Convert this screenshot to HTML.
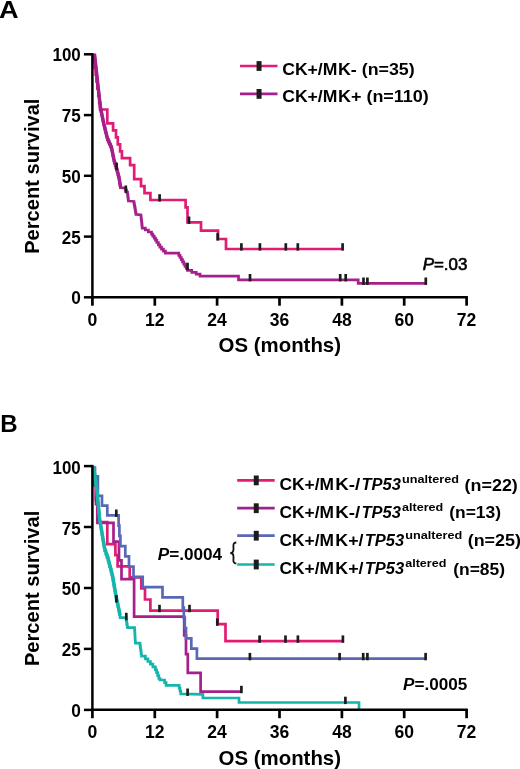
<!DOCTYPE html>
<html><head><meta charset="utf-8"><title>Figure</title>
<style>html,body{margin:0;padding:0;background:#fff}svg{display:block}</style></head>
<body><svg width="520" height="769" viewBox="0 0 520 769">
<rect width="520" height="769" fill="#fff"/>
<text x="-0.9" y="17.6" font-size="24.5" font-family="Liberation Sans, Arial, Helvetica, sans-serif" font-weight="bold" font-style="normal" text-anchor="start" textLength="19.6" lengthAdjust="spacingAndGlyphs" >A</text>
<text x="0.3" y="431.9" font-size="24.5" font-family="Liberation Sans, Arial, Helvetica, sans-serif" font-weight="bold" font-style="normal" text-anchor="start" textLength="17.4" lengthAdjust="spacingAndGlyphs" >B</text>
<path d="M93.9 53.8L93.9 60.8L94.8 60.8L94.8 67.7L95.7 67.7L95.7 74.7L96.5 74.7L96.5 81.7L97.4 81.7L97.4 88.6L98.3 88.6L98.3 95.6L99.2 95.6L99.2 102.5L100.0 102.5L100.0 109.5L100.9 109.5L107.3 109.5L107.3 123.4L113.1 123.4L113.1 130.4L116.0 130.4L116.0 137.4L117.8 137.4L117.8 144.3L120.1 144.3L120.1 151.3L121.9 151.3L121.9 158.2L130.1 158.2L130.1 165.2L134.2 165.2L134.2 179.1L141.0 179.1L141.0 186.1L144.5 186.1L144.5 193.1L150.4 193.1L150.4 200.0L185.6 200.0L185.6 207.3L187.5 207.3L187.5 222.3L201.0 222.3L201.0 230.6L218.0 230.6L218.0 239.0L226.0 239.0L226.0 249.0L342.6 249.0" stroke="#e21c74" stroke-width="2.7" fill="none" stroke-linejoin="miter"/>
<path d="M94.5 53.8L94.5 56.0L94.7 56.0L94.7 58.2L95.0 58.2L95.0 60.4L95.2 60.4L95.2 62.7L95.5 62.7L95.5 64.9L95.7 64.9L95.7 67.1L96.0 67.1L96.0 69.3L96.2 69.3L96.2 71.5L96.5 71.5L96.5 73.8L96.7 73.8L96.7 76.0L97.0 76.0L97.0 78.2L97.2 78.2L97.2 80.4L97.5 80.4L97.5 82.6L97.7 82.6L97.7 84.8L97.9 84.8L97.9 87.0L98.2 87.0L98.2 89.3L98.4 89.3L98.4 91.5L98.7 91.5L98.7 93.7L98.9 93.7L98.9 95.9L99.2 95.9L99.2 98.1L99.4 98.1L99.4 100.3L99.7 100.3L99.7 102.6L99.9 102.6L99.9 104.8L100.2 104.8L100.2 107.0L100.4 107.0L100.4 109.3L100.9 109.3L100.9 111.7L101.4 111.7L101.4 114.0L101.9 114.0L101.9 116.4L102.3 116.4L102.3 118.7L102.8 118.7L102.8 121.1L103.3 121.1L103.3 123.4L103.8 123.4L103.8 125.7L104.4 125.7L104.4 128.1L105.0 128.1L105.0 130.4L105.5 130.4L105.5 132.7L106.1 132.7L106.1 135.1L106.7 135.1L106.7 137.4L107.3 137.4L107.3 139.8L108.3 139.8L108.3 142.1L109.3 142.1L109.3 144.5L110.4 144.5L110.4 146.8L111.4 146.8L111.4 149.1L111.9 149.1L111.9 151.5L112.4 151.5L112.4 153.8L112.8 153.8L112.8 156.1L113.3 156.1L113.3 158.5L113.8 158.5L113.8 160.8L114.3 160.8L114.3 163.1L115.1 163.1L115.1 165.5L115.8 165.5L115.8 167.8L116.6 167.8L116.6 170.2L117.2 170.2L117.2 172.5L117.8 172.5L117.8 174.8L118.4 174.8L118.4 177.2L119.0 177.2L119.0 179.3L119.3 179.3L119.3 181.4L119.7 181.4L119.7 183.4L120.0 183.4L120.0 185.5L120.4 185.5L120.4 187.6L120.7 187.6L125.6 188.2L125.6 190.2L126.5 190.2L126.5 192.2L127.5 192.2L127.5 194.4L127.8 194.4L127.8 196.6L128.1 196.6L128.1 198.8L128.4 198.8L128.4 201.0L128.7 201.0L134.0 201.5L134.0 203.7L134.4 203.7L134.4 205.8L134.8 205.8L134.8 207.9L135.2 207.9L135.2 210.1L135.5 210.1L135.5 212.2L135.9 212.2L135.9 214.4L136.3 214.4L141.0 215.0L141.0 217.2L141.2 217.2L141.2 219.4L141.5 219.4L141.5 221.7L141.7 221.7L141.7 223.9L142.0 223.9L142.0 226.1L142.2 226.1L142.2 228.1L145.3 228.1L145.3 230.0L148.4 230.0L148.4 232.0L151.5 232.0L151.5 234.1L152.8 234.1L152.8 236.1L154.2 236.1L154.2 238.1L155.5 238.1L155.5 240.2L156.8 240.2L156.8 242.5L158.4 242.5L158.4 244.9L159.9 244.9L159.9 247.2L161.5 247.2L161.5 249.2L163.4 249.2L163.4 251.1L165.4 251.1L165.4 253.1L167.3 253.1L178.8 253.1L178.8 255.3L180.0 255.3L180.0 257.5L181.3 257.5L181.3 259.7L182.5 259.7L182.5 261.9L183.8 261.9L183.8 264.1L185.0 264.1L185.0 266.3L186.3 266.3L186.3 268.5L187.5 268.5L187.5 270.4L191.8 270.4L191.8 272.3L196.2 272.3L196.2 274.2L200.0 274.2L200.0 276.2L203.8 276.2L238.5 276.2L238.5 279.8L358.2 279.8L358.2 283.3L425.8 283.3" stroke="#a6208c" stroke-width="2.7" fill="none" stroke-linejoin="miter"/>
<path d="M94.5 53.8L100.4 107.0L103.8 123.4L107.3 137.4L111.4 146.8L114.3 160.8L116.6 167.8L119.0 177.2L120.7 187.6" stroke="#a6208c" stroke-width="3.3" fill="none" stroke-linejoin="miter"/>
<path d="M159.6 194.2V201.6" stroke="#1c1c1c" stroke-width="2.7"/><path d="M189.0 216.5V223.9" stroke="#1c1c1c" stroke-width="2.7"/><path d="M217.7 233.2V240.6" stroke="#1c1c1c" stroke-width="2.7"/><path d="M241.4 243.2V250.6" stroke="#1c1c1c" stroke-width="2.7"/><path d="M259.9 243.2V250.6" stroke="#1c1c1c" stroke-width="2.7"/><path d="M285.8 243.2V250.6" stroke="#1c1c1c" stroke-width="2.7"/><path d="M297.8 243.2V250.6" stroke="#1c1c1c" stroke-width="2.7"/><path d="M342.6 243.2V250.6" stroke="#1c1c1c" stroke-width="2.7"/>
<path d="M116.6 162.7V170.1" stroke="#1c1c1c" stroke-width="2.7"/><path d="M125.8 185.5V192.9" stroke="#1c1c1c" stroke-width="2.7"/><path d="M187.5 262.7V270.1" stroke="#1c1c1c" stroke-width="2.7"/><path d="M250.0 274.0V281.4" stroke="#1c1c1c" stroke-width="2.7"/><path d="M340.2 274.0V281.4" stroke="#1c1c1c" stroke-width="2.7"/><path d="M345.7 274.0V281.4" stroke="#1c1c1c" stroke-width="2.7"/><path d="M363.5 277.5V284.9" stroke="#1c1c1c" stroke-width="2.7"/><path d="M367.4 277.5V284.9" stroke="#1c1c1c" stroke-width="2.7"/><path d="M425.8 277.5V284.9" stroke="#1c1c1c" stroke-width="2.7"/>
<path d="M94.2 466.6L94.2 477.7L95.8 477.7L95.8 499.8L97.3 499.8L97.3 522.0L107.3 522.0L107.3 544.1L115.4 544.1L115.4 555.2L117.6 555.2L117.6 566.3L129.7 566.3L129.7 577.4L141.3 577.4L141.3 588.4L145.0 588.4L145.0 599.5L150.4 599.5L150.4 610.6L217.7 610.6L217.7 624.2L225.5 624.2L225.5 641.2L342.9 641.2" stroke="#e21c74" stroke-width="2.7" fill="none" stroke-linejoin="miter"/>
<path d="M94.4 466.6L94.4 485.3L96.0 485.3L96.0 504.1L97.5 504.1L97.5 522.8L113.5 522.8L113.5 541.6L119.0 541.6L119.0 560.3L121.5 560.3L121.5 579.1L134.1 579.1L134.1 616.6L184.2 616.6L184.2 635.3L186.0 635.3L186.0 654.1L187.8 654.1L187.8 672.8L200.6 672.8L200.6 691.6L241.4 691.6" stroke="#a6208c" stroke-width="2.7" fill="none" stroke-linejoin="miter"/>
<path d="M95.0 466.6L95.0 476.3L97.9 476.3L97.9 495.8L102.0 495.8L102.0 505.6L107.3 505.6L107.3 515.3L118.6 515.3L118.6 525.6L119.4 525.6L119.4 535.9L120.4 535.9L120.4 546.1L125.3 546.1L125.3 556.4L129.0 556.4L129.0 566.6L133.5 566.6L133.5 576.9L142.7 576.9L142.7 587.1L162.5 587.1L162.5 597.4L182.8 597.4L182.8 607.6L183.8 607.6L183.8 617.9L184.8 617.9L184.8 628.1L186.0 628.1L186.0 638.4L191.3 638.4L191.3 648.7L196.9 648.7L196.9 658.7L425.6 658.7" stroke="#5967b6" stroke-width="2.7" fill="none" stroke-linejoin="miter"/>
<path d="M93.6 466.6L93.6 469.4L94.0 469.4L94.0 472.2L94.4 472.2L94.4 475.1L94.8 475.1L94.8 477.9L95.2 477.9L95.2 480.7L95.6 480.7L95.6 483.6L96.0 483.6L96.0 486.4L96.4 486.4L96.4 489.2L96.8 489.2L96.8 492.1L97.1 492.1L97.1 495.1L97.4 495.1L97.4 498.0L97.7 498.0L97.7 500.9L98.0 500.9L98.0 503.9L98.2 503.9L98.2 506.8L98.5 506.8L98.5 509.7L98.8 509.7L98.8 512.6L99.1 512.6L99.1 515.6L99.4 515.6L99.4 518.5L99.7 518.5L99.7 521.2L100.1 521.2L100.1 523.9L100.6 523.9L100.6 526.6L101.0 526.6L101.0 529.2L101.5 529.2L101.5 531.9L101.9 531.9L101.9 534.6L102.3 534.6L102.3 537.3L102.8 537.3L102.8 540.0L103.2 540.0L103.2 542.6L103.7 542.6L103.7 545.1L104.1 545.1L104.1 547.7L104.6 547.7L104.6 551.0L105.7 551.0L105.7 554.2L106.8 554.2L106.8 557.5L107.9 557.5L107.9 560.4L108.7 560.4L108.7 563.4L109.4 563.4L109.4 566.3L110.2 566.3L110.2 569.2L111.0 569.2L111.0 572.2L111.7 572.2L111.7 575.1L112.5 575.1L112.5 578.1L113.0 578.1L113.0 581.1L113.5 581.1L113.5 584.1L114.0 584.1L114.0 587.1L114.6 587.1L114.6 590.1L115.1 590.1L115.1 593.1L115.6 593.1L115.6 596.1L116.1 596.1L116.1 598.8L116.7 598.8L116.7 601.5L117.2 601.5L117.2 604.2L117.8 604.2L117.8 606.8L118.4 606.8L118.4 609.5L119.0 609.5L119.0 612.2L119.5 612.2L119.5 614.9L120.1 614.9L120.1 617.7L126.2 617.7L126.2 620.8L126.7 620.8L126.7 623.8L127.2 623.8L127.2 626.9L127.7 626.9L127.7 627.7L134.6 627.7L134.6 630.5L134.8 630.5L134.8 633.2L134.9 633.2L134.9 636.0L135.1 636.0L135.1 638.7L135.2 638.7L135.2 641.5L135.4 641.5L135.4 643.1L140.0 643.1L140.0 645.8L140.4 645.8L140.4 648.5L140.8 648.5L140.8 651.1L141.1 651.1L141.1 653.8L141.5 653.8L141.5 656.2L145.4 656.2L145.4 658.9L147.9 658.9L147.9 661.5L150.4 661.5L150.4 664.2L152.9 664.2L152.9 666.9L155.4 666.9L155.4 669.8L156.6 669.8L156.6 672.7L157.7 672.7L157.7 675.6L158.8 675.6L158.8 678.5L160.0 678.5L160.0 680.0L164.6 680.0L164.6 682.7L166.1 682.7L166.1 685.4L167.7 685.4L179.2 685.4L179.2 688.2L180.0 688.2L180.0 691.0L180.7 691.0L180.7 693.8L181.5 693.8L202.9 694.3L202.9 698.0L239.0 698.0L239.0 702.5L359.0 702.5L359.0 709.5" stroke="#16b5ac" stroke-width="2.7" fill="none" stroke-linejoin="miter"/>
<path d="M93.6 466.6L96.8 489.2L99.7 518.5L103.2 540.0L104.6 547.7L107.9 557.5L112.5 575.1L116.1 596.1L120.1 614.9" stroke="#16b5ac" stroke-width="3.4" fill="none" stroke-linejoin="miter"/>
<path d="M159.5 604.8V612.2" stroke="#1c1c1c" stroke-width="2.7"/><path d="M189.5 604.8V612.2" stroke="#1c1c1c" stroke-width="2.7"/><path d="M217.3 618.4V625.8" stroke="#1c1c1c" stroke-width="2.7"/><path d="M259.6 635.4V642.8" stroke="#1c1c1c" stroke-width="2.7"/><path d="M285.5 635.4V642.8" stroke="#1c1c1c" stroke-width="2.7"/><path d="M297.9 635.4V642.8" stroke="#1c1c1c" stroke-width="2.7"/><path d="M342.9 635.4V642.8" stroke="#1c1c1c" stroke-width="2.7"/>
<path d="M241.4 685.8V693.2" stroke="#1c1c1c" stroke-width="2.7"/>
<path d="M116.3 509.5V516.9" stroke="#1c1c1c" stroke-width="2.7"/><path d="M249.9 652.9V660.3" stroke="#1c1c1c" stroke-width="2.7"/><path d="M339.6 652.9V660.3" stroke="#1c1c1c" stroke-width="2.7"/><path d="M363.2 652.9V660.3" stroke="#1c1c1c" stroke-width="2.7"/><path d="M367.4 652.9V660.3" stroke="#1c1c1c" stroke-width="2.7"/><path d="M425.6 652.9V660.3" stroke="#1c1c1c" stroke-width="2.7"/>
<path d="M116.4 595.1V602.5" stroke="#1c1c1c" stroke-width="2.7"/><path d="M126.3 612.8V620.2" stroke="#1c1c1c" stroke-width="2.7"/><path d="M187.6 688.5V695.9" stroke="#1c1c1c" stroke-width="2.7"/><path d="M345.4 696.7V704.1" stroke="#1c1c1c" stroke-width="2.7"/>
<path d="M92.4 53.1V298.6" stroke="#000" stroke-width="2.5" fill="none"/>
<path d="M91.0 297.3H467.9" stroke="#000" stroke-width="2.5" fill="none"/>
<path d="M83.9 297.3H92.4" stroke="#000" stroke-width="2.5"/>
<text x="80.8" y="304.2" font-size="17.5" font-family="Liberation Sans, Arial, Helvetica, sans-serif" font-weight="bold" font-style="normal" text-anchor="end" textLength="9.6" lengthAdjust="spacingAndGlyphs" >0</text>
<path d="M83.9 236.6H92.4" stroke="#000" stroke-width="2.5"/>
<text x="80.8" y="243.5" font-size="17.5" font-family="Liberation Sans, Arial, Helvetica, sans-serif" font-weight="bold" font-style="normal" text-anchor="end" textLength="19.0" lengthAdjust="spacingAndGlyphs" >25</text>
<path d="M83.9 175.8H92.4" stroke="#000" stroke-width="2.5"/>
<text x="80.8" y="182.7" font-size="17.5" font-family="Liberation Sans, Arial, Helvetica, sans-serif" font-weight="bold" font-style="normal" text-anchor="end" textLength="19.0" lengthAdjust="spacingAndGlyphs" >50</text>
<path d="M83.9 115.1H92.4" stroke="#000" stroke-width="2.5"/>
<text x="80.8" y="122.0" font-size="17.5" font-family="Liberation Sans, Arial, Helvetica, sans-serif" font-weight="bold" font-style="normal" text-anchor="end" textLength="19.0" lengthAdjust="spacingAndGlyphs" >75</text>
<path d="M83.9 54.3H92.4" stroke="#000" stroke-width="2.5"/>
<text x="80.8" y="61.2" font-size="17.5" font-family="Liberation Sans, Arial, Helvetica, sans-serif" font-weight="bold" font-style="normal" text-anchor="end" textLength="28.3" lengthAdjust="spacingAndGlyphs" >100</text>
<path d="M92.4 297.3V305.7" stroke="#000" stroke-width="2.7"/>
<text x="92.4" y="325.6" font-size="17.5" font-family="Liberation Sans, Arial, Helvetica, sans-serif" font-weight="bold" font-style="normal" text-anchor="middle" textLength="9.8" lengthAdjust="spacingAndGlyphs" >0</text>
<path d="M154.8 297.3V305.7" stroke="#000" stroke-width="2.7"/>
<text x="154.8" y="325.6" font-size="17.5" font-family="Liberation Sans, Arial, Helvetica, sans-serif" font-weight="bold" font-style="normal" text-anchor="middle" textLength="19.5" lengthAdjust="spacingAndGlyphs" >12</text>
<path d="M217.1 297.3V305.7" stroke="#000" stroke-width="2.7"/>
<text x="217.1" y="325.6" font-size="17.5" font-family="Liberation Sans, Arial, Helvetica, sans-serif" font-weight="bold" font-style="normal" text-anchor="middle" textLength="19.5" lengthAdjust="spacingAndGlyphs" >24</text>
<path d="M279.5 297.3V305.7" stroke="#000" stroke-width="2.7"/>
<text x="279.5" y="325.6" font-size="17.5" font-family="Liberation Sans, Arial, Helvetica, sans-serif" font-weight="bold" font-style="normal" text-anchor="middle" textLength="19.5" lengthAdjust="spacingAndGlyphs" >36</text>
<path d="M341.9 297.3V305.7" stroke="#000" stroke-width="2.7"/>
<text x="341.9" y="325.6" font-size="17.5" font-family="Liberation Sans, Arial, Helvetica, sans-serif" font-weight="bold" font-style="normal" text-anchor="middle" textLength="19.5" lengthAdjust="spacingAndGlyphs" >48</text>
<path d="M404.2 297.3V305.7" stroke="#000" stroke-width="2.7"/>
<text x="404.2" y="325.6" font-size="17.5" font-family="Liberation Sans, Arial, Helvetica, sans-serif" font-weight="bold" font-style="normal" text-anchor="middle" textLength="19.5" lengthAdjust="spacingAndGlyphs" >60</text>
<path d="M466.6 297.3V305.7" stroke="#000" stroke-width="2.7"/>
<text x="466.6" y="325.6" font-size="17.5" font-family="Liberation Sans, Arial, Helvetica, sans-serif" font-weight="bold" font-style="normal" text-anchor="middle" textLength="19.5" lengthAdjust="spacingAndGlyphs" >72</text>
<text x="279.8" y="352.4" font-size="20.5" font-family="Liberation Sans, Arial, Helvetica, sans-serif" font-weight="bold" font-style="normal" text-anchor="middle" textLength="122.4" lengthAdjust="spacingAndGlyphs" >OS (months)</text>
<g transform="translate(39.3 176.2) rotate(-90)"><text x="0" y="0" font-size="20.5" font-family="Liberation Sans, Arial, Helvetica, sans-serif" font-weight="bold" font-style="normal" text-anchor="middle" textLength="155.3" lengthAdjust="spacingAndGlyphs" >Percent survival</text></g>
<path d="M92.4 464.9V711.1" stroke="#000" stroke-width="2.5" fill="none"/>
<path d="M91.0 709.85H467.9" stroke="#000" stroke-width="2.5" fill="none"/>
<path d="M83.9 709.9H92.4" stroke="#000" stroke-width="2.5"/>
<text x="80.8" y="716.7" font-size="17.5" font-family="Liberation Sans, Arial, Helvetica, sans-serif" font-weight="bold" font-style="normal" text-anchor="end" textLength="9.6" lengthAdjust="spacingAndGlyphs" >0</text>
<path d="M83.9 648.9H92.4" stroke="#000" stroke-width="2.5"/>
<text x="80.8" y="656.0" font-size="17.5" font-family="Liberation Sans, Arial, Helvetica, sans-serif" font-weight="bold" font-style="normal" text-anchor="end" textLength="19.0" lengthAdjust="spacingAndGlyphs" >25</text>
<path d="M83.9 588.0H92.4" stroke="#000" stroke-width="2.5"/>
<text x="80.8" y="595.4" font-size="17.5" font-family="Liberation Sans, Arial, Helvetica, sans-serif" font-weight="bold" font-style="normal" text-anchor="end" textLength="19.0" lengthAdjust="spacingAndGlyphs" >50</text>
<path d="M83.9 527.0H92.4" stroke="#000" stroke-width="2.5"/>
<text x="80.8" y="534.7" font-size="17.5" font-family="Liberation Sans, Arial, Helvetica, sans-serif" font-weight="bold" font-style="normal" text-anchor="end" textLength="19.0" lengthAdjust="spacingAndGlyphs" >75</text>
<path d="M83.9 466.1H92.4" stroke="#000" stroke-width="2.5"/>
<text x="80.8" y="474.0" font-size="17.5" font-family="Liberation Sans, Arial, Helvetica, sans-serif" font-weight="bold" font-style="normal" text-anchor="end" textLength="28.3" lengthAdjust="spacingAndGlyphs" >100</text>
<path d="M92.4 709.85V718.2" stroke="#000" stroke-width="2.7"/>
<text x="92.4" y="738.1" font-size="17.5" font-family="Liberation Sans, Arial, Helvetica, sans-serif" font-weight="bold" font-style="normal" text-anchor="middle" textLength="9.8" lengthAdjust="spacingAndGlyphs" >0</text>
<path d="M154.8 709.85V718.2" stroke="#000" stroke-width="2.7"/>
<text x="154.8" y="738.1" font-size="17.5" font-family="Liberation Sans, Arial, Helvetica, sans-serif" font-weight="bold" font-style="normal" text-anchor="middle" textLength="19.5" lengthAdjust="spacingAndGlyphs" >12</text>
<path d="M217.1 709.85V718.2" stroke="#000" stroke-width="2.7"/>
<text x="217.1" y="738.1" font-size="17.5" font-family="Liberation Sans, Arial, Helvetica, sans-serif" font-weight="bold" font-style="normal" text-anchor="middle" textLength="19.5" lengthAdjust="spacingAndGlyphs" >24</text>
<path d="M279.5 709.85V718.2" stroke="#000" stroke-width="2.7"/>
<text x="279.5" y="738.1" font-size="17.5" font-family="Liberation Sans, Arial, Helvetica, sans-serif" font-weight="bold" font-style="normal" text-anchor="middle" textLength="19.5" lengthAdjust="spacingAndGlyphs" >36</text>
<path d="M341.9 709.85V718.2" stroke="#000" stroke-width="2.7"/>
<text x="341.9" y="738.1" font-size="17.5" font-family="Liberation Sans, Arial, Helvetica, sans-serif" font-weight="bold" font-style="normal" text-anchor="middle" textLength="19.5" lengthAdjust="spacingAndGlyphs" >48</text>
<path d="M404.2 709.85V718.2" stroke="#000" stroke-width="2.7"/>
<text x="404.2" y="738.1" font-size="17.5" font-family="Liberation Sans, Arial, Helvetica, sans-serif" font-weight="bold" font-style="normal" text-anchor="middle" textLength="19.5" lengthAdjust="spacingAndGlyphs" >60</text>
<path d="M466.6 709.85V718.2" stroke="#000" stroke-width="2.7"/>
<text x="466.6" y="738.1" font-size="17.5" font-family="Liberation Sans, Arial, Helvetica, sans-serif" font-weight="bold" font-style="normal" text-anchor="middle" textLength="19.5" lengthAdjust="spacingAndGlyphs" >72</text>
<text x="279.8" y="765.0" font-size="20.5" font-family="Liberation Sans, Arial, Helvetica, sans-serif" font-weight="bold" font-style="normal" text-anchor="middle" textLength="122.4" lengthAdjust="spacingAndGlyphs" >OS (months)</text>
<g transform="translate(39.3 588.4) rotate(-90)"><text x="0" y="0" font-size="20.5" font-family="Liberation Sans, Arial, Helvetica, sans-serif" font-weight="bold" font-style="normal" text-anchor="middle" textLength="155.3" lengthAdjust="spacingAndGlyphs" >Percent survival</text></g>
<path d="M240 66.0H277.5" stroke="#e21c74" stroke-width="2.7"/><path d="M259.05 61.1V70.9" stroke="#1c1c1c" stroke-width="5.0"/>
<text x="282.2" y="75.0" font-size="16" font-family="Liberation Sans, Arial, Helvetica, sans-serif" font-weight="bold" font-style="normal" text-anchor="start" textLength="55.2" lengthAdjust="spacingAndGlyphs" >CK+/M</text>
<text x="338.0" y="75.0" font-size="16" font-family="Liberation Sans, Arial, Helvetica, sans-serif" font-weight="bold" font-style="normal" text-anchor="start" textLength="76.7" lengthAdjust="spacingAndGlyphs" >K- (n=35)</text>
<path d="M240 93.9H277.5" stroke="#a6208c" stroke-width="2.7"/><path d="M259.05 89.0V98.80000000000001" stroke="#1c1c1c" stroke-width="5.0"/>
<text x="282.2" y="102.2" font-size="16" font-family="Liberation Sans, Arial, Helvetica, sans-serif" font-weight="bold" font-style="normal" text-anchor="start" textLength="55.2" lengthAdjust="spacingAndGlyphs" >CK+/M</text>
<text x="338.0" y="102.2" font-size="16" font-family="Liberation Sans, Arial, Helvetica, sans-serif" font-weight="bold" font-style="normal" text-anchor="start" textLength="90.8" lengthAdjust="spacingAndGlyphs" >K+ (n=110)</text>
<text x="422.7" y="269.8" font-size="16" font-family="Liberation Sans, Arial, Helvetica, sans-serif" font-weight="normal" font-style="normal" text-anchor="start" textLength="44.6" lengthAdjust="spacingAndGlyphs" stroke="#000" stroke-width="0.6"><tspan font-style="italic">P</tspan>=.03</text>
<path d="M237.2 480.4H274.7" stroke="#e21c74" stroke-width="2.7"/><path d="M256.25 475.5V485.29999999999995" stroke="#1c1c1c" stroke-width="5.0"/>
<text x="279.5" y="490.3" font-size="16" font-family="Liberation Sans, Arial, Helvetica, sans-serif" font-weight="bold" font-style="normal" text-anchor="start" textLength="54.4" lengthAdjust="spacingAndGlyphs" >CK+/M</text>
<text x="335.3" y="490.3" font-size="16" font-family="Liberation Sans, Arial, Helvetica, sans-serif" font-weight="bold" font-style="normal" text-anchor="start" textLength="25.0" lengthAdjust="spacingAndGlyphs" >K-/</text>
<text x="361.5" y="490.3" font-size="16" font-family="Liberation Sans, Arial, Helvetica, sans-serif" font-weight="bold" font-style="italic" text-anchor="start" textLength="39.4" lengthAdjust="spacingAndGlyphs" >TP53</text>
<text x="402.0" y="483.2" font-size="10.6" font-family="Liberation Sans, Arial, Helvetica, sans-serif" font-weight="bold" font-style="normal" text-anchor="start" textLength="57" lengthAdjust="spacingAndGlyphs" >unaltered</text>
<text x="464.6" y="490.5" font-size="16" font-family="Liberation Sans, Arial, Helvetica, sans-serif" font-weight="bold" font-style="normal" text-anchor="start" textLength="53.2" lengthAdjust="spacingAndGlyphs" >(n=22)</text>
<path d="M237.2 508.2H274.7" stroke="#a6208c" stroke-width="2.7"/><path d="M256.25 503.3V513.1" stroke="#1c1c1c" stroke-width="5.0"/>
<text x="279.5" y="517.8" font-size="16" font-family="Liberation Sans, Arial, Helvetica, sans-serif" font-weight="bold" font-style="normal" text-anchor="start" textLength="54.4" lengthAdjust="spacingAndGlyphs" >CK+/M</text>
<text x="335.3" y="517.8" font-size="16" font-family="Liberation Sans, Arial, Helvetica, sans-serif" font-weight="bold" font-style="normal" text-anchor="start" textLength="25.0" lengthAdjust="spacingAndGlyphs" >K-/</text>
<text x="361.5" y="517.8" font-size="16" font-family="Liberation Sans, Arial, Helvetica, sans-serif" font-weight="bold" font-style="italic" text-anchor="start" textLength="39.4" lengthAdjust="spacingAndGlyphs" >TP53</text>
<text x="402.0" y="510.7" font-size="10.6" font-family="Liberation Sans, Arial, Helvetica, sans-serif" font-weight="bold" font-style="normal" text-anchor="start" textLength="41.2" lengthAdjust="spacingAndGlyphs" >altered</text>
<text x="449.2" y="518.0" font-size="16" font-family="Liberation Sans, Arial, Helvetica, sans-serif" font-weight="bold" font-style="normal" text-anchor="start" textLength="51.8" lengthAdjust="spacingAndGlyphs" >(n=13)</text>
<path d="M237.2 535.7H274.7" stroke="#5967b6" stroke-width="2.7"/><path d="M256.25 530.8000000000001V540.6" stroke="#1c1c1c" stroke-width="5.0"/>
<text x="279.5" y="546.0" font-size="16" font-family="Liberation Sans, Arial, Helvetica, sans-serif" font-weight="bold" font-style="normal" text-anchor="start" textLength="54.4" lengthAdjust="spacingAndGlyphs" >CK+/M</text>
<text x="335.3" y="546.0" font-size="16" font-family="Liberation Sans, Arial, Helvetica, sans-serif" font-weight="bold" font-style="normal" text-anchor="start" textLength="28.19999999999999" lengthAdjust="spacingAndGlyphs" >K+/</text>
<text x="364.7" y="546.0" font-size="16" font-family="Liberation Sans, Arial, Helvetica, sans-serif" font-weight="bold" font-style="italic" text-anchor="start" textLength="39.4" lengthAdjust="spacingAndGlyphs" >TP53</text>
<text x="405.2" y="538.9000000000001" font-size="10.6" font-family="Liberation Sans, Arial, Helvetica, sans-serif" font-weight="bold" font-style="normal" text-anchor="start" textLength="57" lengthAdjust="spacingAndGlyphs" >unaltered</text>
<text x="467.7" y="546.2" font-size="16" font-family="Liberation Sans, Arial, Helvetica, sans-serif" font-weight="bold" font-style="normal" text-anchor="start" textLength="53.2" lengthAdjust="spacingAndGlyphs" >(n=25)</text>
<path d="M237.2 564.5H274.7" stroke="#16b5ac" stroke-width="2.7"/><path d="M256.25 559.6V569.4" stroke="#1c1c1c" stroke-width="5.0"/>
<text x="279.5" y="574.4" font-size="16" font-family="Liberation Sans, Arial, Helvetica, sans-serif" font-weight="bold" font-style="normal" text-anchor="start" textLength="54.4" lengthAdjust="spacingAndGlyphs" >CK+/M</text>
<text x="335.3" y="574.4" font-size="16" font-family="Liberation Sans, Arial, Helvetica, sans-serif" font-weight="bold" font-style="normal" text-anchor="start" textLength="28.19999999999999" lengthAdjust="spacingAndGlyphs" >K+/</text>
<text x="364.7" y="574.4" font-size="16" font-family="Liberation Sans, Arial, Helvetica, sans-serif" font-weight="bold" font-style="italic" text-anchor="start" textLength="39.4" lengthAdjust="spacingAndGlyphs" >TP53</text>
<text x="405.2" y="567.3000000000001" font-size="10.6" font-family="Liberation Sans, Arial, Helvetica, sans-serif" font-weight="bold" font-style="normal" text-anchor="start" textLength="41.2" lengthAdjust="spacingAndGlyphs" >altered</text>
<text x="453.2" y="574.6" font-size="16" font-family="Liberation Sans, Arial, Helvetica, sans-serif" font-weight="bold" font-style="normal" text-anchor="start" textLength="51.8" lengthAdjust="spacingAndGlyphs" >(n=85)</text>
<text x="157.7" y="560.0" font-size="16" font-family="Liberation Sans, Arial, Helvetica, sans-serif" font-weight="bold" font-style="normal" text-anchor="start" textLength="64.4" lengthAdjust="spacingAndGlyphs" ><tspan font-style="italic">P</tspan>=.0004</text>
<text x="403.1" y="689.6" font-size="16" font-family="Liberation Sans, Arial, Helvetica, sans-serif" font-weight="bold" font-style="normal" text-anchor="start" textLength="64.2" lengthAdjust="spacingAndGlyphs" ><tspan font-style="italic">P</tspan>=.0005</text>
<path d="M236.3 542.5 C232.5 542.5 233.5 546 233.5 549 C233.5 552 232.5 553 230.3 553 C232.5 553 233.5 554 233.5 557 C233.5 560 232.5 563.5 236.3 563.5" stroke="#111" stroke-width="1.8" fill="none"/>
</svg></body></html>
